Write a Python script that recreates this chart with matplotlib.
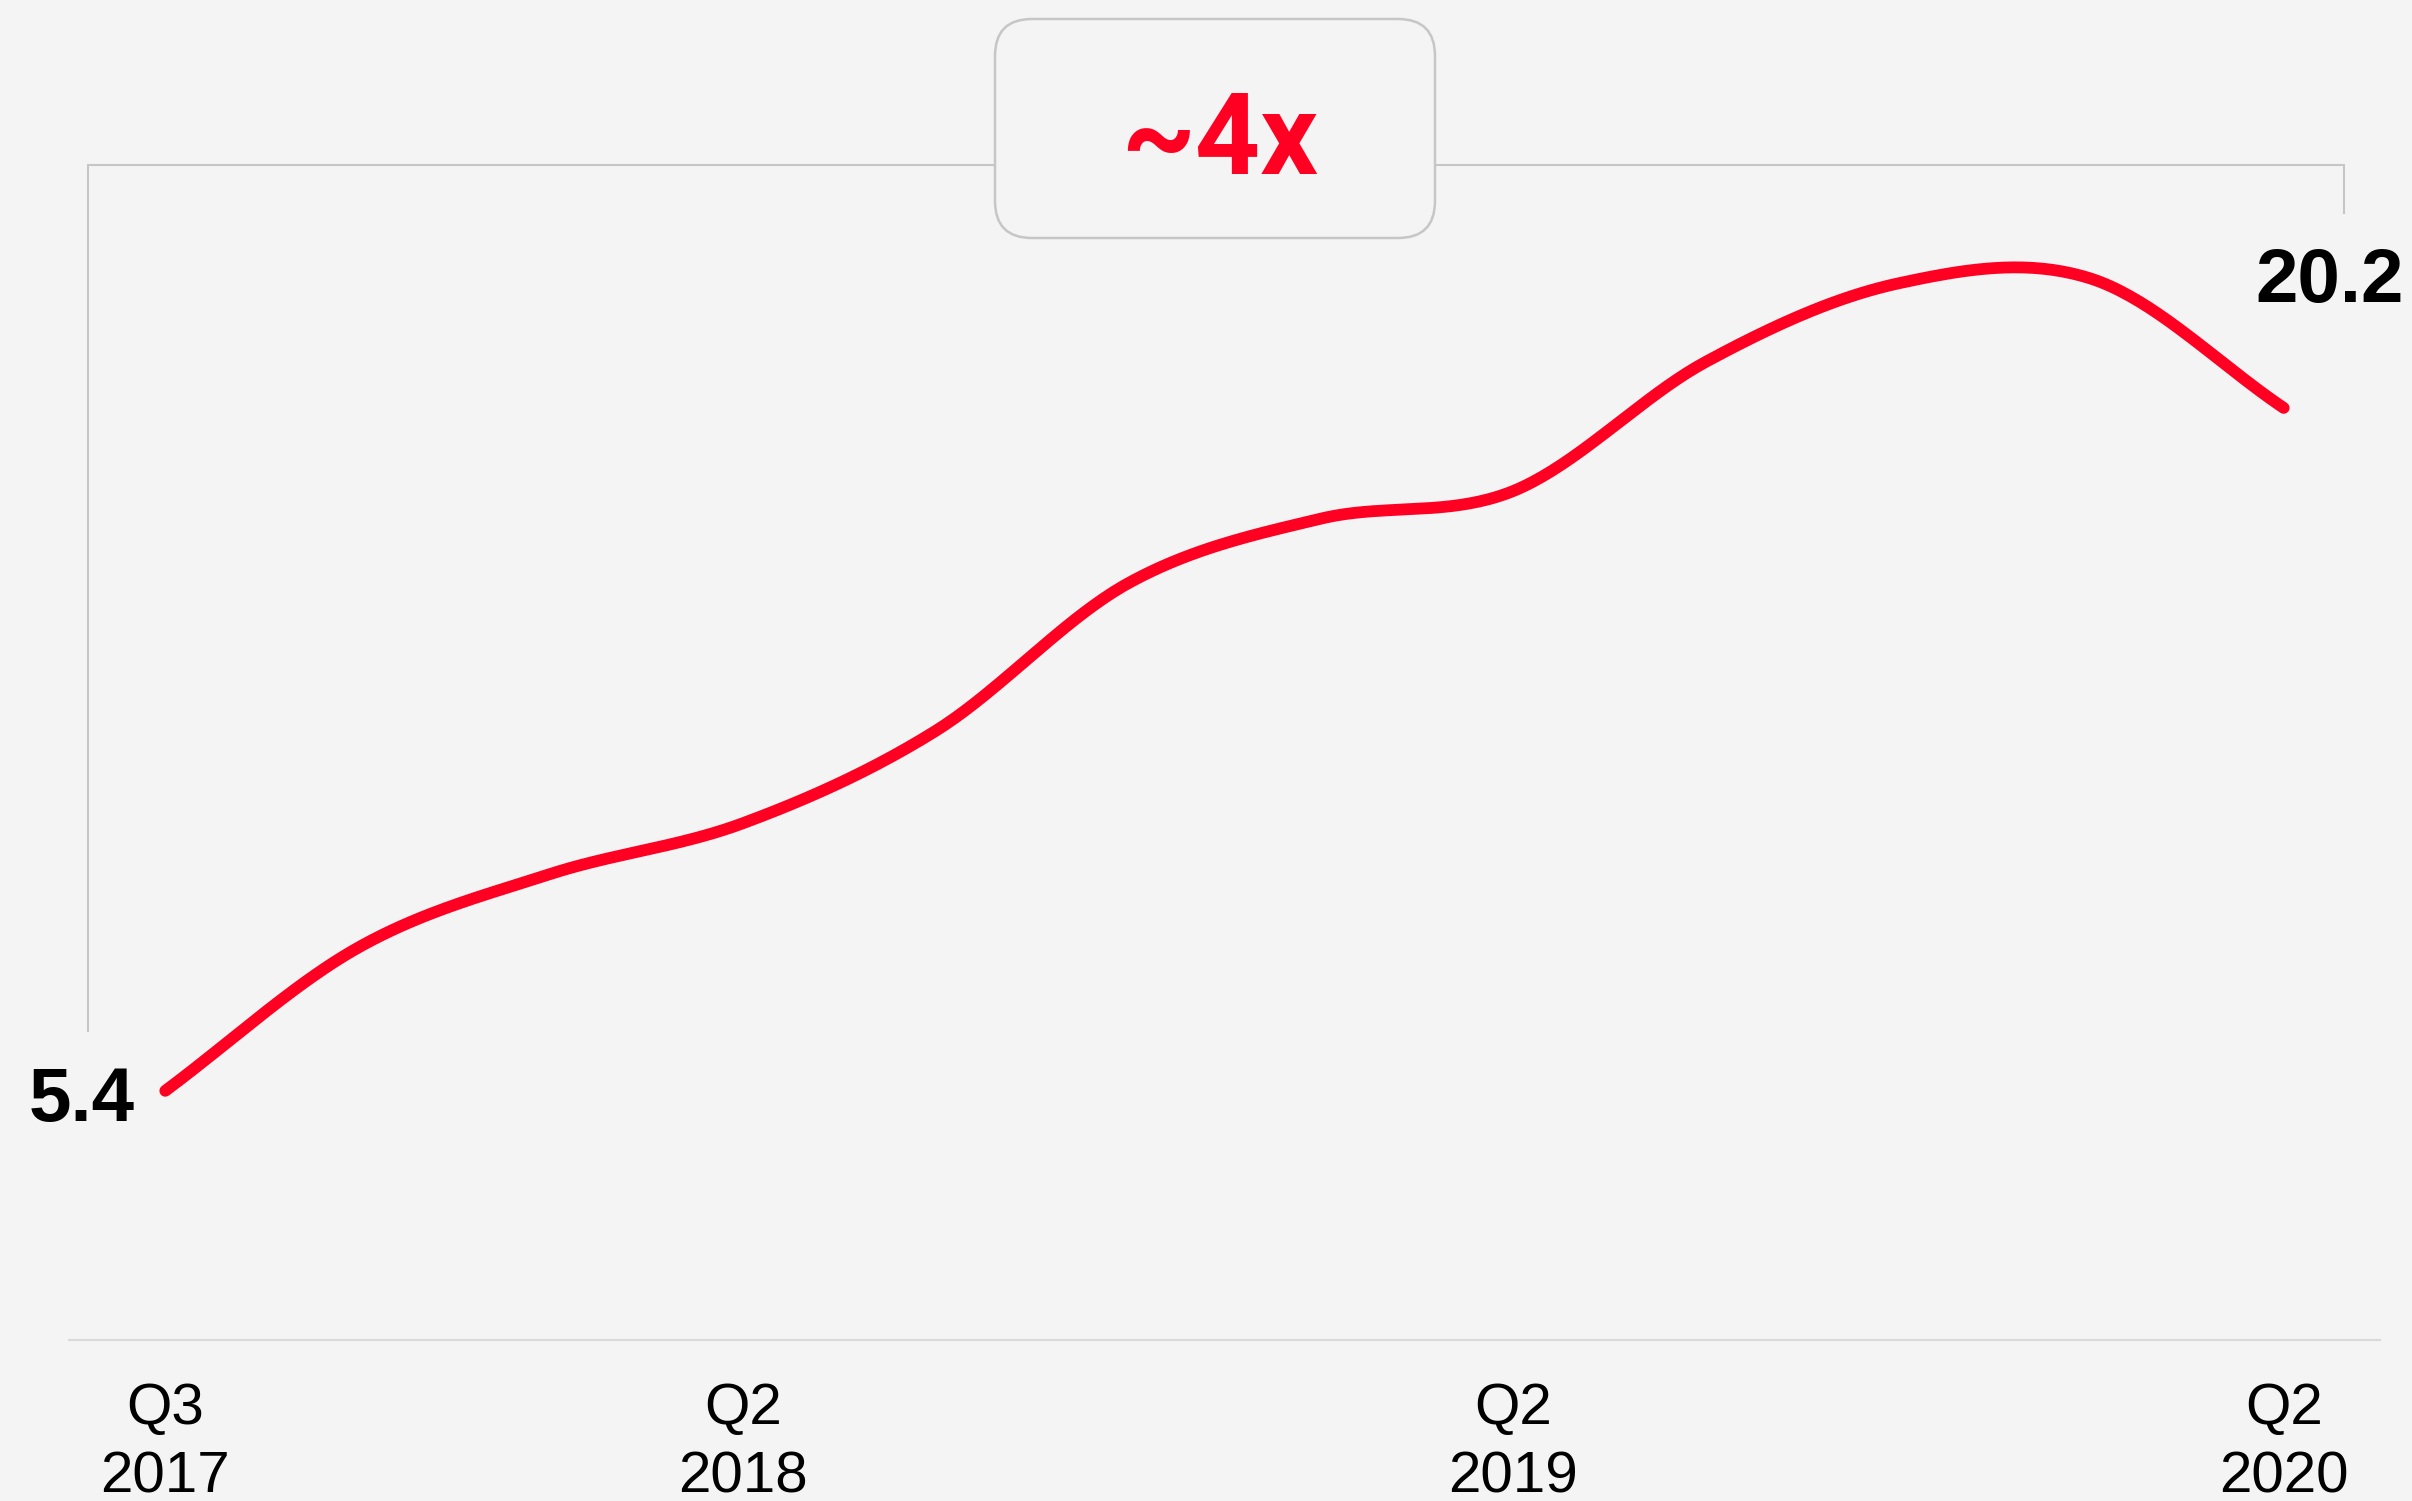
import numpy as np
import matplotlib
matplotlib.use("Agg")
import matplotlib.pyplot as plt
from matplotlib.patches import FancyBboxPatch

plt.rcParams['font.family'] = ['Liberation Sans', 'DejaVu Sans']

# data
quarters = ['Q3\n2017', 'Q4\n2017', 'Q1\n2018', 'Q2\n2018', 'Q3\n2018', 'Q4\n2018',
            'Q1\n2019', 'Q2\n2019', 'Q3\n2019', 'Q4\n2019', 'Q1\n2020', 'Q2\n2020']
values = [5.4, 8.5, 10.1, 11.2, 13.2, 16.4, 17.8, 18.4, 21.2, 22.9, 23.0, 20.2]
shown_ticks = [0, 3, 7, 11]
growth_label = '~4x'

BG = '#f4f4f4'
RED = '#ff0023'
GREY = '#c6c6c6'
W, H = 2412, 1501


def smooth(x, y, n=40):
    """Cubic Hermite (Catmull-Rom style) curve through the points."""
    x = np.asarray(x, float)
    y = np.asarray(y, float)
    m = np.gradient(y, x)
    xs, ys = [], []
    t = np.linspace(0, 1, n, endpoint=False)
    h00 = 2 * t ** 3 - 3 * t ** 2 + 1
    h10 = t ** 3 - 2 * t ** 2 + t
    h01 = -2 * t ** 3 + 3 * t ** 2
    h11 = t ** 3 - t ** 2
    for i in range(len(x) - 1):
        dx = x[i + 1] - x[i]
        xs.append(x[i] + t * dx)
        ys.append(h00 * y[i] + h10 * dx * m[i] + h01 * y[i + 1] + h11 * dx * m[i + 1])
    xs.append([x[-1]])
    ys.append([y[-1]])
    return np.concatenate(xs), np.concatenate(ys)


fig = plt.figure(figsize=(W / 100, H / 100), dpi=100, facecolor=BG)

# main axes: bottom spine is the baseline
ax = fig.add_axes([69 / W, (H - 1340) / H, (2380 - 69) / W, 1340 / H])
ax.set_facecolor('none')
x = np.arange(len(values))
sx, sy = smooth(x, values)
ax.plot(sx, sy, color=RED, lw=8.5, solid_capstyle='round', zorder=3)
ax.set_xlim(-0.5, len(values) - 0.5)
ax.set_ylim(0, 29.04)

for s in ['top', 'right', 'left']:
    ax.spines[s].set_visible(False)
ax.spines['bottom'].set_color('#d9d9d9')
ax.spines['bottom'].set_linewidth(1.6)
ax.set_yticks([])
ax.set_xticks(shown_ticks, [quarters[i] for i in shown_ticks])
ax.tick_params(axis='x', length=0, pad=30, labelsize=42)
for lab in ax.get_xticklabels():
    lab.set_linespacing(1.36)

# end value labels
ax.annotate(f'{values[0]:.1f}', (x[0], values[0]), xytext=(-22, -22),
            textcoords='offset points', ha='right', va='baseline',
            fontsize=55, fontweight='bold')
ax.annotate(f'{values[-1]:.1f}', (x[-1], values[-1]), xytext=(33, 76),
            textcoords='offset points', ha='center', va='baseline',
            fontsize=55, fontweight='bold')

# overlay in pixel units for the bracket and the callout box
ov = fig.add_axes([0, 0, 1, 1], zorder=5)
ov.set_xlim(0, W)
ov.set_ylim(H, 0)
ov.axis('off')
ov.patch.set_visible(False)

ov.plot([88, 88, 2344, 2344], [1031, 165, 165, 213], color=GREY, lw=1.5,
        solid_joinstyle='miter', zorder=1)
box = FancyBboxPatch((995 + 37, 19 + 37), 440 - 74, 219 - 74,
                     boxstyle='round,pad=37', facecolor=BG, edgecolor=GREY,
                     lw=1.8, zorder=2)
ov.add_patch(box)
ov.text(1220, 174, growth_label, ha='center', va='baseline', color=RED,
        fontsize=82, fontweight='bold', family=['Roboto', 'DejaVu Sans'],
        zorder=3)

fig.savefig('out.png', dpi=100, facecolor=BG)
